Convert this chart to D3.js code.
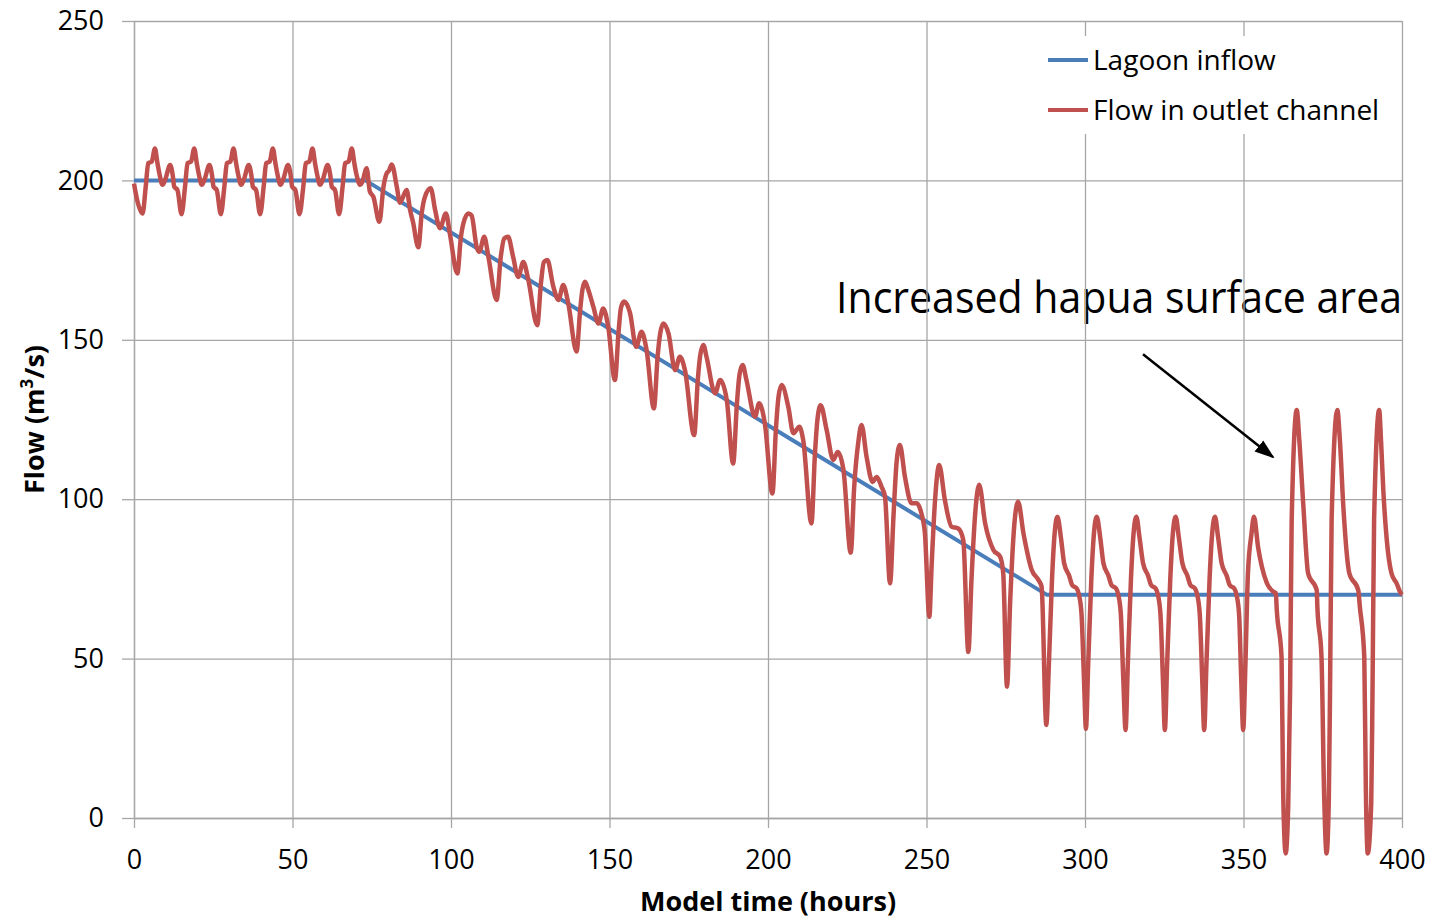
<!DOCTYPE html>
<html>
<head>
<meta charset="utf-8">
<script src="https://cdn.jsdelivr.net/npm/d3@7"></script>
<style>
  body { margin: 0; background: #fff; }
  text { font-family: "Open Sans", "Liberation Sans", sans-serif; fill: #000; }
</style>
</head>
<body>
<div id="graph"></div>
<script>
// tick values for both axes
var xTicks = [0, 50, 100, 150, 200, 250, 300, 350, 400];
var yTicks = [0, 50, 100, 150, 200, 250];

// series names
var seriesNames = ["Lagoon inflow", "Flow in outlet channel"];

// lagoon inflow: [hour, flow]
var lagoonInflow = [[0, 200], [73, 200], [288, 70], [400, 70]];

// flow in outlet channel: [hour, flow]
var outletFlow = [
  [0,199],[1.2,193],[2.7,189.6],[3.7,198],[4.5,205.4],[5.6,205.9],[6.6,210],[7.4,205.4],[8.0,202.2],[9.0,198.6],[9.8,200.1],[11.4,204.8],[12.2,201.7],[12.7,198],[13.7,197],[15.0,189.4],
  [16.1,198],[16.9,205.4],[18.0,205.9],[19.0,210],[19.8,205.4],[20.4,202.2],[21.4,198.6],[22.2,200.1],[23.8,204.8],[24.6,201.7],[25.1,198],[26.1,197],[27.4,189.4],
  [28.5,198],[29.3,205.4],[30.4,205.9],[31.4,210],[32.2,205.4],[32.8,202.2],[33.8,198.6],[34.6,200.1],[36.2,204.8],[37.0,201.7],[37.5,198],[38.5,197],[39.8,189.4],
  [40.9,198],[41.7,205.4],[42.8,205.9],[43.8,210],[44.6,205.4],[45.2,202.2],[46.2,198.6],[47.0,200.1],[48.6,204.8],[49.4,201.7],[49.9,198],[50.9,197],[52.2,189.4],
  [53.4,198],[54.2,205.4],[55.3,205.9],[56.3,210],[57.1,205.4],[57.7,202.2],[58.7,198.6],[59.5,200.1],[61.1,204.8],[61.9,201.7],[62.4,198],[63.4,197],[64.7,189.4],
  [65.8,198],[66.6,205.4],[67.7,205.9],[68.7,210],[69.5,205.4],[70.1,202.2],[71.4,198.6],[72.0,199.5],[73.4,203.8],[74.4,196.5],[75.5,194.9],[77.4,187],
  [78.7,198],[79.7,202.2],[80.4,203],[81.3,205],[82.9,198],[83.9,193],[86.0,197],[87.1,190.7],[88.0,187],[89.7,179],
  [90.8,190],[91.8,194.9],[93.6,197.5],[95,190.7],[96.5,185],[98.4,189.6],[99.7,182.9],[102,170.8],
  [103.1,182],[103.9,186.5],[105.5,189.6],[106.5,189],[108.1,179.1],[108.9,177.6],[110.5,182.3],[111.8,176],[114.4,162.5],
  [115.7,176],[116.8,181.8],[118,182.3],[119.6,176],[121.2,169.7],[122.8,174.4],[124.4,168.8],[127.2,154.6],
  [128.4,168],[129.3,174.4],[130.4,175],[132.3,166.6],[133.9,162.5],[135.4,167.2],[137,161.4],[139.6,146.3],
  [140.8,160],[141.5,166],[142.3,168.2],[143.2,166],[144.9,160.4],[146.5,155.1],[148,159.8],[149.6,154.1],[151.7,137.4],
  [152.9,153],[153.6,160],[154.6,162],[156.5,158.3],[158.4,147.8],[160.1,152.5],[161.7,146.8],[164,128.5],
  [165.2,145],[166,152],[167,155.1],[168.6,152],[170.7,140.5],[172.2,144.7],[173.8,140.5],[176.7,120.1],
  [177.9,138],[178.6,145],[179.6,148.4],[180.6,144.7],[183.3,133.2],[184.9,137.4],[187,131.1],[189,111.2],
  [190.2,130],[191,139],[192,142.1],[193.2,137.4],[195.9,125.9],[197.2,130.1],[199,123.8],[201.4,101.8],
  [202.5,122],[203.3,132],[204.3,135.8],[206.4,129],[208,120.7],[209.9,122.7],[211.1,118.6],[213.7,92.4],
  [214.8,114],[215.6,125],[216.6,129.5],[218.5,121.7],[220.6,112.3],[222,114.8],[223.8,109.2],[226.1,83.2],
  [227.2,104],[228.5,118],[229.5,123.3],[231.1,113.3],[233,105.4],[234.3,107],[235.8,103.9],[236.9,100.8],[238.5,73.6],
  [239.6,95],[240.6,112],[241.6,117],[243.2,107],[245.3,98.7],[246.9,98.7],[248.4,95.5],[249.5,89.3],[250.9,63.1],
  [251.6,78.8],[252.7,99.7],[254,110.7],[255.8,99.7],[257.9,91.4],[260,90.8],[261.6,87.2],[263.2,52.1],
  [264.2,75],[265.4,96],[266.6,104.5],[268.5,92.4],[271.1,84.1],[273.2,82],[274.2,76.8],[275.4,41.2],
  [276.4,68],[277.7,92],[278.9,99.2],[280.6,89.2],[283.2,77.8],[285.3,74.7],[286.3,72.6],[287.8,29.2],
  [288.6,48],[289.6,75],[290.4,89],[291.3,94.5],[292.4,88],[293.4,80],[295,76],[296,73],[297.4,72],[298.1,70],[298.9,64],[299.7,43],[300.3,28],
  [301.0,48],[302.0,75],[302.8,89],[303.7,94.5],[304.8,88],[305.8,80],[307.4,76],[308.4,73],[309.8,72],[310.5,70],[311.3,64],[312.1,43],[312.8,27.6],
  [313.5,48],[314.5,75],[315.3,89],[316.2,94.5],[317.2,88],[318.3,80],[319.9,76],[320.9,73],[322.3,72],[323,70],[323.8,64],[324.6,43],[325.2,27.6],
  [325.9,48],[326.9,75],[327.7,89],[328.6,94.5],[329.6,88],[330.7,80],[332.3,76],[333.3,73],[334.7,72],[335.4,70],[336.2,64],[337,43],[337.6,27.6],
  [338.3,48],[339.3,75],[340.1,89],[341,94.5],[342,88],[343.1,80],[344.7,76],[345.7,73],[347.1,72],[347.8,70],[348.6,64],[349.3,43],[349.9,27.6],
  [350.6,48],[351.4,76.7],[352.5,89],[353.3,94.5],[354.6,85],[355.8,78.8],[357.4,73.6],[359.5,70.9],[360.2,70.5],[360.5,65.2],[362,50.6],[362.5,8.8],[363.3,-11.1],
  [364.1,3.5],[364.7,40.2],[365.2,93.5],[366.8,128],[367.6,118.6],[368.9,97.6],[370.4,76.7],[373.1,71.5],[373.3,66.3],[374.6,50.6],[375.4,8.8],[376.2,-11.1],
  [376.9,5],[377.3,40],[377.8,93.5],[379.6,128],[380.4,118.6],[381.5,97.6],[383.4,76.7],[386.2,71.5],[386.7,66.3],[388.1,50.6],[388.6,8.8],[389.2,-11.1],
  [390.3,5],[390.7,40],[391.2,93.5],[392.8,128],[393.4,118],[394.1,102.9],[395.2,87.2],[396.7,76.7],[398.3,73.6],[399.6,70.5],[400,70]
];

// annotation text and arrow, in data units [hour, flow]
var noteText = "Increased hapua surface area";
var noteAnchor = [400, 158.4];
var arrowFrom = [318.3, 145.5];
var arrowTo = [359.3, 113.2];

var colors = ["#4a7ebb", "#c0504d"];

// set the dimensions and margins of the graph
var svg = d3.select('#graph').append("svg")
  .attr('width', 1430)
  .attr('height', 921);
var margin = {top: 21, right: 28, bottom: 103, left: 134},
  width = +svg.attr("width") - margin.left - margin.right,
  height = +svg.attr("height") - margin.top - margin.bottom,
  g = svg.append("g").attr("transform", "translate(" + margin.left + "," + margin.top + ")");

svg.insert("rect", ":first-child").attr("width", 1430).attr("height", 921).attr("fill", "#fff");

// set the ranges
var x = d3.scaleLinear().domain([0, 400]).range([0, width]);
var y = d3.scaleLinear().domain([0, 250]).range([height, 0]);

// annotation text sits under the gridlines like in the original
g.append("text")
  .attr("x", x(noteAnchor[0]))
  .attr("y", y(noteAnchor[1]))
  .attr("text-anchor", "end")
  .attr("textLength", 566)
  .attr("lengthAdjust", "spacingAndGlyphs")
  .style("font-size", "43px")
  .text(noteText);

// gridlines
g.append("g")
  .attr("class", "grid")
  .call(d3.axisLeft(y).tickValues(yTicks).tickSize(-width).tickFormat(""));
g.append("g")
  .attr("class", "grid")
  .attr("transform", "translate(0," + height + ")")
  .call(d3.axisBottom(x).tickValues(xTicks).tickSize(-height).tickFormat(""));
g.selectAll(".grid .domain").remove();
g.selectAll(".grid line").attr("stroke", "#a6a6a6").attr("stroke-width", 1.3);

// axes
var yAxis = g.append("g")
  .call(d3.axisLeft(y).tickValues(yTicks).tickSize(12).tickSizeOuter(0).tickPadding(18));
var xAxis = g.append("g")
  .attr("transform", "translate(0," + height + ")")
  .call(d3.axisBottom(x).tickValues(xTicks).tickSize(10).tickSizeOuter(0).tickPadding(22));
[xAxis, yAxis].forEach(function(a) {
  a.select(".domain").attr("stroke", "#a6a6a6").attr("stroke-width", 1.3);
  a.selectAll(".tick line").attr("stroke", "#a6a6a6").attr("stroke-width", 1.3);
  a.selectAll("text")
    .style("font-family", "'Open Sans', sans-serif")
    .style("font-size", "27px")
    .attr("fill", "#000");
});

// axis titles
svg.append("text")
  .attr("transform", "translate(44," + (margin.top + height / 2) + ") rotate(-90)")
  .attr("text-anchor", "middle")
  .style("font-size", "27px")
  .style("font-weight", "bold")
  .html("Flow (m<tspan baseline-shift='super' font-size='17px'>3</tspan>/s)");
svg.append("text")
  .attr("x", margin.left + width / 2)
  .attr("y", 911)
  .attr("text-anchor", "middle")
  .style("font-size", "27px")
  .style("font-weight", "bold")
  .text("Model time (hours)");

// define the lines
var inflowLine = d3.line()
  .x(function(d) { return x(d[0]); })
  .y(function(d) { return y(d[1]); });
var outletLine = d3.line()
  .x(function(d) { return x(d[0]); })
  .y(function(d) { return y(d[1]); })
  .curve(d3.curveMonotoneX);

g.append("path")
  .datum(lagoonInflow)
  .attr("fill", "none")
  .attr("stroke", colors[0])
  .attr("stroke-width", 4)
  .attr("d", inflowLine);

g.append("path")
  .datum(outletFlow)
  .attr("fill", "none")
  .attr("stroke", colors[1])
  .attr("stroke-width", 4.5)
  .attr("stroke-linejoin", "round")
  .attr("d", outletLine);

// arrow
svg.append("defs").append("marker")
  .attr("id", "arrowhead")
  .attr("viewBox", "0 0 10 10")
  .attr("refX", 9).attr("refY", 5)
  .attr("markerWidth", 8).attr("markerHeight", 8)
  .attr("markerUnits", "strokeWidth")
  .attr("orient", "auto")
  .append("path")
  .attr("d", "M0,1.5 L10,5 L0,8.5 z")
  .attr("fill", "#000");
g.append("line")
  .attr("x1", x(arrowFrom[0])).attr("y1", y(arrowFrom[1]))
  .attr("x2", x(arrowTo[0])).attr("y2", y(arrowTo[1]))
  .attr("stroke", "#000")
  .attr("stroke-width", 2.5)
  .attr("marker-end", "url(#arrowhead)");

// legend
var legend = svg.append("g").attr("transform", "translate(1040,36)");
legend.append("rect")
  .attr("width", 355).attr("height", 98)
  .attr("fill", "#fff");
var items = legend.selectAll(".item")
  .data(seriesNames)
  .enter().append("g")
  .attr("transform", function(d, i) { return "translate(0," + (24 + i * 50) + ")"; });
items.append("line")
  .attr("x1", 8).attr("x2", 48)
  .attr("stroke", function(d, i) { return colors[i]; })
  .attr("stroke-width", 4);
items.append("text")
  .attr("x", 53)
  .attr("y", 10)
  .style("font-size", "28px")
  .text(function(d) { return d; });
</script>
</body>
</html>
